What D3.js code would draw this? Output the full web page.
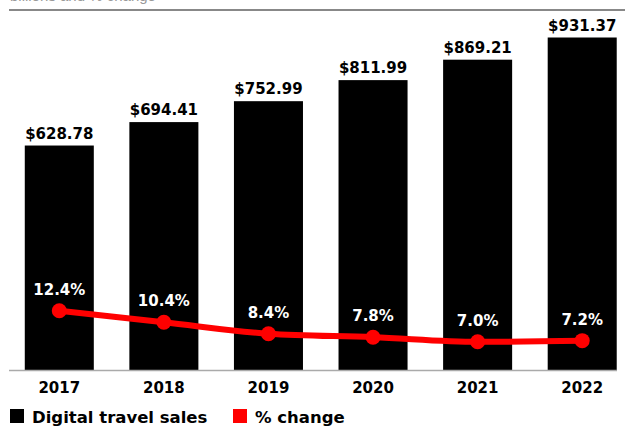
<!DOCTYPE html>
<html>
<head>
<meta charset="utf-8">
<script src="https://cdn.jsdelivr.net/npm/d3@7"></script>
<style>
  html, body { margin: 0; padding: 0; background: #fff; }
  svg { display: block; }
  text { font-family: "DejaVu Sans", Verdana, sans-serif; font-weight: bold; }
</style>
</head>
<body>
<svg id="chart" width="625" height="426"></svg>
<script>
// data
const years = ["2017", "2018", "2019", "2020", "2021", "2022"];
const sales = [628.78, 694.41, 752.99, 811.99, 869.21, 931.37]; // billions
const pctChange = [12.4, 10.4, 8.4, 7.8, 7.0, 7.2];
const legendLabels = ["Digital travel sales", "% change"];
const subtitle = "billions and % change";

const W = 625, H = 426;
const baseY = 370;

const svg = d3.select("#chart");

// x: one band per year
const x = d3.scaleBand()
  .domain(years)
  .range([7, 634.5])
  .paddingInner(0.34)
  .paddingOuter(0.17);

// y for the bars, zero at the axis line
const y = d3.scaleLinear().domain([0, 1000]).range([baseY, baseY - 357]);

// y for the % line (own scale, not drawn)
const y2 = d3.scaleLinear().domain([0, 14]).range([382, 382 - 80.4]);

// subtitle, cropped by the top edge as in the source image, + top rule
svg.append("text")
  .attr("x", 10).attr("y", 0.5)
  .style("font-weight", "normal")
  .style("font-family", "Arial, 'Liberation Sans', sans-serif")
  .style("font-size", "15px")
  .attr("fill", "#999")
  .text(subtitle);

svg.append("line")
  .attr("x1", 9).attr("x2", W)
  .attr("y1", 10).attr("y2", 10)
  .attr("stroke", "#888").attr("stroke-width", 2);

// bars
svg.append("g").selectAll("rect")
  .data(sales)
  .join("rect")
  .attr("x", (d, i) => x(years[i]))
  .attr("width", x.bandwidth())
  .attr("y", d => y(d))
  .attr("height", d => y(0) - y(d))
  .attr("fill", "#000");

// bar value labels
svg.append("g").selectAll("text")
  .data(sales)
  .join("text")
  .attr("x", (d, i) => x(years[i]) + x.bandwidth() / 2)
  .attr("y", d => y(d) - 7)
  .attr("text-anchor", "middle")
  .style("font-size", "15px")
  .attr("fill", "#000")
  .text(d => "$" + d3.format(".2f")(d));

// x axis line
svg.append("line")
  .attr("x1", 9).attr("x2", 617)
  .attr("y1", baseY + 0.5).attr("y2", baseY + 0.5)
  .attr("stroke", "#aaa").attr("stroke-width", 1.5);

// year labels
const xAxis = d3.axisBottom(x).tickSize(0).tickPadding(0);
const gx = svg.append("g").attr("transform", `translate(0,${baseY})`).call(xAxis);
gx.select(".domain").remove();
gx.selectAll("text")
  .attr("dy", null)
  .attr("y", 23)
  .style("font-size", "15px")
  .style("font-family", "'DejaVu Sans', Verdana, sans-serif")
  .style("font-weight", "bold")
  .attr("fill", "#000");

// % change line
const cx = (d, i) => x(years[i]) + x.bandwidth() / 2;
const line = d3.line()
  .x((d, i) => cx(d, i))
  .y(d => y2(d))
  .curve(d3.curveMonotoneX);

svg.append("path")
  .datum(pctChange)
  .attr("d", line)
  .attr("fill", "none")
  .attr("stroke", "#f00")
  .attr("stroke-width", 6)
  .attr("stroke-linecap", "round");

svg.append("g").selectAll("circle")
  .data(pctChange)
  .join("circle")
  .attr("cx", cx)
  .attr("cy", d => y2(d))
  .attr("r", 7.5)
  .attr("fill", "#f00");

svg.append("g").selectAll("text")
  .data(pctChange)
  .join("text")
  .attr("x", cx)
  .attr("y", d => y2(d) - 16)
  .attr("text-anchor", "middle")
  .style("font-size", "15px")
  .attr("fill", "#fff")
  .text(d => d3.format(".1f")(d) + "%");

// legend
const legend = svg.append("g").attr("transform", "translate(10,409)");
const legendColors = ["#000", "#f00"];
const legendX = [0, 223];
legend.selectAll("rect")
  .data(legendLabels)
  .join("rect")
  .attr("x", (d, i) => legendX[i])
  .attr("y", 0)
  .attr("width", 14).attr("height", 14)
  .attr("fill", (d, i) => legendColors[i]);
legend.selectAll("text")
  .data(legendLabels)
  .join("text")
  .attr("x", (d, i) => legendX[i] + 22)
  .attr("y", 14)
  .style("font-size", "16.5px")
  .attr("fill", "#000")
  .text(d => d);
</script>
</body>
</html>
